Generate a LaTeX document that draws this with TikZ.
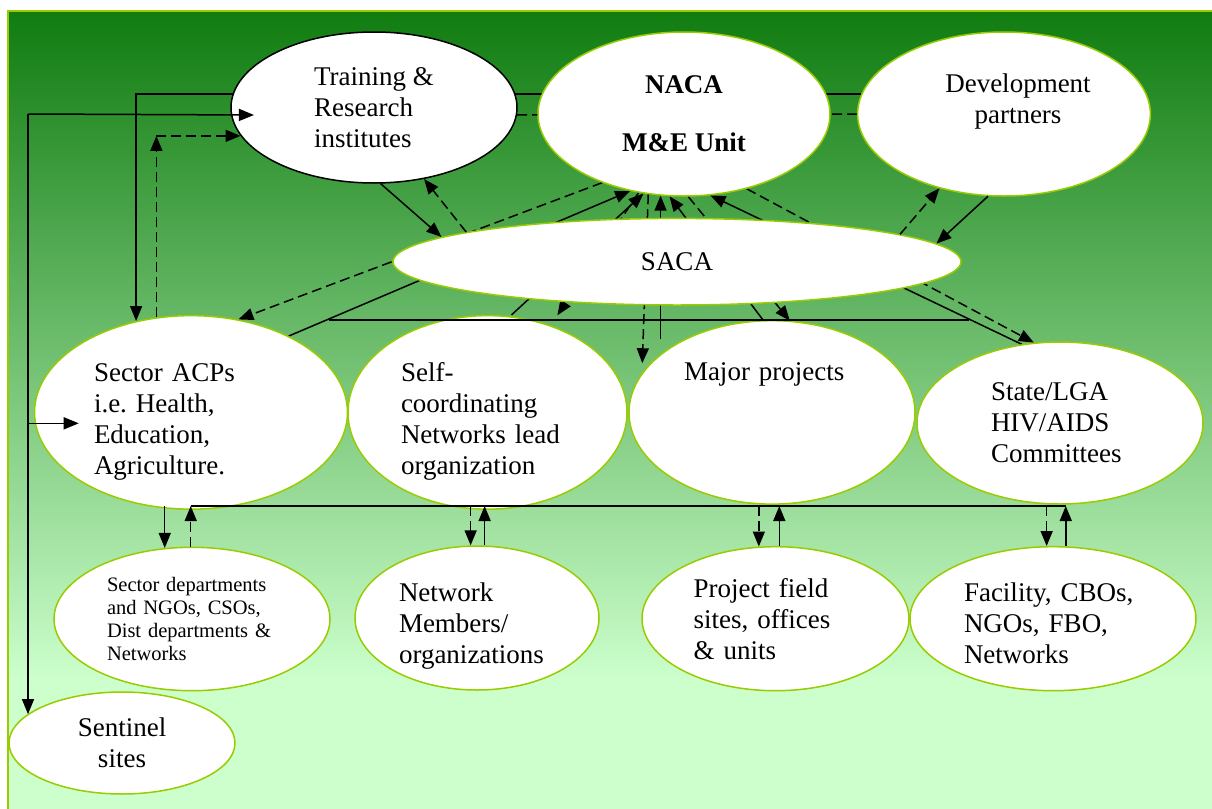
\documentclass[tikz,border=0pt]{standalone}
\usepackage{fontspec}
\setmainfont{Liberation Serif}
\usepackage{tikz}
\usetikzlibrary{shapes.geometric, arrows.meta, positioning}
\newcommand{\orgfont}{\fontsize{13.5pt}{15.5pt}\selectfont\frenchspacing}
\newcommand{\subfont}{\fontsize{10.25pt}{11.65pt}\selectfont\frenchspacing}
\newcommand{\lift}[1]{\rule{0pt}{#1}}
\definecolor{deepgreen}{RGB}{16,124,16}
\definecolor{palegreen}{RGB}{204,255,204}
\definecolor{ygreen}{RGB}{153,204,0}
\pgfdeclarelayer{back}
\pgfdeclarelayer{wires}
\pgfsetlayers{back,wires,main}
\tikzset{
  org/.style={ellipse, draw=ygreen, line width=0.75pt, fill=white, inner sep=0pt, font=\orgfont},
  rep/.style={line width=0.75pt, -{Triangle[length=7.5pt,width=6pt]}},
  fbk/.style={rep, dash pattern=on 5pt off 2.5pt},
  bus/.style={line width=0.75pt},
}

\begin{document}
\begin{tikzpicture}[x=0.5pt, y=-0.5pt]
    \useasboundingbox (0,0) rectangle (1212,809);
    \begin{pgfonlayer}{back}
      \fill[palegreen] (8,679) rectangle (1214,811);
      \shade[top color=deepgreen, bottom color=palegreen] (8,11) rectangle (1214,680);
      \draw[ygreen, line width=0.75pt] (8,811) -- (8,11) -- (1214,11);
    \end{pgfonlayer}

    \node[org, draw=black, minimum width=143pt, minimum height=75.5pt, align=left] (train) at (374,107.5) {Training \&\\Research\\institutes};
    \node[org, minimum width=146pt, minimum height=82pt, align=center, font=\orgfont\bfseries] (naca) at (684,114) {NACA\\[13.5pt]M\&E Unit};
    \node[org, minimum width=146.4pt, minimum height=82pt, align=center] (dev) at (1004,114) {\hspace*{14pt}Development\\\hspace*{14pt}partners\\~};
    \node[org, minimum width=284pt, minimum height=43.3pt] (saca) at (677,261.7) {SACA};
    \node[org, minimum width=156.5pt, minimum height=91.7pt, text width=97pt, align=left] (acp) at (191,412.4) {\lift{19pt}Sector ACPs\\i.e. Health,\\Education,\\Agriculture.};
    \node[org, minimum width=139.5pt, minimum height=91.7pt, text width=86.5pt, align=left] (selfnet) at (487.5,412.4) {\lift{19pt}Self-\\coordinating\\Networks lead\\organization};
    \node[org, minimum width=143pt, minimum height=91.7pt, text width=88pt, align=left] (major) at (772,412.4) {\lift{15pt}Major projects\\~\\~\\~};
    \node[org, minimum width=143pt, minimum height=81pt, text width=69pt, align=left] (state) at (1060,423) {State/LGA\\HIV/AIDS\\Committees};
    \node[org, minimum width=138pt, minimum height=71.7pt, text width=85pt, align=left, font=\subfont] (secdept) at (192,619) {Sector departments\\and NGOs, CSOs,\\Dist departments \&\\Networks};
    \node[org, minimum width=122pt, minimum height=71pt, text width=78pt, align=left] (members) at (477,618) {\lift{17pt}Network\\Members/\\organizations};
    \node[org, minimum width=133.5pt, minimum height=72pt, text width=82pt, align=left] (field) at (775.5,618.7) {Project field\\sites, offices\\\& units};
    \node[org, minimum width=143pt, minimum height=72pt, text width=89pt, align=left] (facility) at (1053,618.7) {\lift{14pt}Facility, CBOs,\\NGOs, FBO,\\Networks};
    \node[org, minimum width=113pt, minimum height=51pt, align=center] (sentinel) at (122,743) {Sentinel\\sites};

    \coordinate (lt) at (28,114);
    \coordinate (busL) at (329,320);
    \coordinate (busR) at (969,320);
    \coordinate (lowbus) at (0,506);

    % Connect the nodes (behind the ellipses)
    \begin{pgfonlayer}{wires}
      \draw[rep] (dev.172) -| (acp.121) ; %
      \draw[fbk, -] (train.357) -- (dev.west) ; %
      \draw[fbk] (naca.220) -- (acp.63) ; %
      \draw[rep] (acp.38) -- (naca.235) ; %
      \draw[rep] ([xshift=12pt]selfnet.north) -- (naca.243) ; %
      \draw[fbk, shorten >=6pt] (naca.240) -- (selfnet.54) ; %
      \draw[rep] (naca.254 |- major.140) -- (naca.254) ; %
      \draw[fbk] (naca.246) -- ([xshift=-3pt]naca.246 |- major.158) ; %
      \draw[rep] ([xshift=-4.5pt]major.north) -- (naca.260) ; %
      \draw[fbk] (naca.273) -- (major.79) ; %
      \draw[rep] (state.116) -- (naca.288) ; %
      \draw[fbk] (naca.310) -- (state.108) ; %
    \end{pgfonlayer}

    % Connect the nodes
    \draw[rep] (train.275) -- (saca.174) ; %
    \draw[fbk] (saca.172) -- (train.305) ; %
    \draw[rep] (dev.259) -- (saca.4.5) ; %
    \draw[fbk] (saca.7.5) -- (dev.229) ; %
    \draw[rep] (lt) -- ([xshift=11.5pt]train.183) ; %
    \draw[rep] (lt) -- (lt |- sentinel.163) ; %
    \draw[rep] (lt |- acp.184) -- ([xshift=22pt]acp.184) ; %
    \draw[fbk] (acp.110) -- (acp.110 |- train.192) ; %
    \draw[fbk] (acp.110 |- train.192) -- (train.192) ; %
    \draw[bus] (busL) -- (busR) ; %
    \draw[bus] (secdept.91 |- lowbus) -- (facility.80 |- lowbus) ; %
    \draw[rep] (secdept.111 |- lowbus) -- (secdept.111) ; %
    \draw[fbk] (secdept.91) -- (secdept.91 |- lowbus) ; %
    \draw[fbk] (members.95 |- lowbus) -- (members.95) ; %
    \draw[rep] (members.84) -- (members.84 |- lowbus) ; %
    \draw[fbk] (field.103 |- lowbus) -- (field.103) ; %
    \draw[rep] (field.87) -- (field.87 |- lowbus) ; %
    \draw[fbk] (facility.95 |- lowbus) -- (facility.95) ; %
    \draw[rep] (facility.80) -- (facility.80 |- lowbus) ; %
\end{tikzpicture}
\end{document}
